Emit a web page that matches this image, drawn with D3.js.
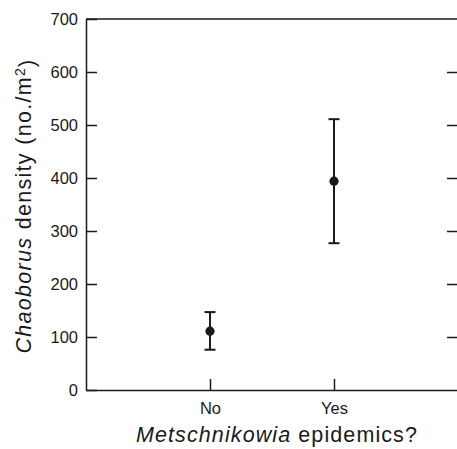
<!DOCTYPE html>
<html>
<head>
<meta charset="utf-8">
<script src="https://cdn.jsdelivr.net/npm/d3@7"></script>
<style>
  html, body { margin: 0; padding: 0; background: #fff; }
  svg { display: block; }
  text { font-family: "Liberation Sans", Arial, Helvetica, sans-serif; fill: #1a1a1a; }
</style>
</head>
<body>
<svg id="chart" width="457" height="449"></svg>
<script>
const categories = ["No", "Yes"];
const means = [111, 394];
const lower = [76, 277];
const upper = [147, 511];
const yTicks = [0, 100, 200, 300, 400, 500, 600, 700];

const W = 457, H = 449;
const mLeft = 86, mRight = 458, mTop = 19, mBottom = 390;
const ink = "#1a1a1a";

const svg = d3.select("#chart");

const x = d3.scalePoint().domain(categories).range([mLeft, mRight]).padding(1);
const y = d3.scaleLinear().domain([0, 700]).range([mBottom, mTop]);

const data = categories.map((c, i) => ({ c, m: means[i], lo: lower[i], hi: upper[i] }));

function styleAxis(g) {
  g.selectAll("path.domain").attr("stroke", ink).attr("stroke-width", 1.5);
  g.selectAll(".tick line").attr("stroke", ink).attr("stroke-width", 1.5);
  g.selectAll(".tick text").attr("fill", ink);
}

// left axis
svg.append("g")
  .attr("transform", `translate(${mLeft},0)`)
  .call(d3.axisLeft(y).tickValues(yTicks).tickSizeInner(-11).tickSizeOuter(0).tickPadding(8))
  .call(g => g.selectAll("text").style("font-size", "16.5px"))
  .call(styleAxis);

// right axis (ticks only, inward)
svg.append("g")
  .attr("transform", `translate(${mRight},0)`)
  .call(d3.axisRight(y).tickValues(yTicks.filter(v => v > 0 && v < 700)).tickSizeInner(-11).tickSizeOuter(0).tickFormat(""))
  .call(styleAxis);

// bottom axis
svg.append("g")
  .attr("transform", `translate(0,${mBottom})`)
  .call(d3.axisBottom(x).tickSizeInner(-11).tickSizeOuter(0).tickPadding(12))
  .call(g => g.selectAll("text").style("font-size", "16.5px"))
  .call(styleAxis);

// top frame line
svg.append("line")
  .attr("x1", mLeft).attr("x2", mRight)
  .attr("y1", y(700)).attr("y2", y(700))
  .attr("stroke", ink).attr("stroke-width", 1.5);

// error bars
const eb = svg.append("g");
eb.append("g").selectAll("line").data(data).join("line")
  .attr("x1", d => x(d.c)).attr("x2", d => x(d.c))
  .attr("y1", d => y(d.lo)).attr("y2", d => y(d.hi))
  .attr("stroke", ink).attr("stroke-width", 2);
eb.append("g").selectAll("line").data(data).join("line")
  .attr("x1", d => x(d.c) - 5.5).attr("x2", d => x(d.c) + 5.5)
  .attr("y1", d => y(d.hi)).attr("y2", d => y(d.hi))
  .attr("stroke", ink).attr("stroke-width", 2);
eb.append("g").selectAll("line").data(data).join("line")
  .attr("x1", d => x(d.c) - 5.5).attr("x2", d => x(d.c) + 5.5)
  .attr("y1", d => y(d.lo)).attr("y2", d => y(d.lo))
  .attr("stroke", ink).attr("stroke-width", 2);
svg.append("g").selectAll("circle").data(data).join("circle")
  .attr("cx", d => x(d.c)).attr("cy", d => y(d.m)).attr("r", 4.6)
  .attr("fill", ink);

function fitWidth(sel, target) {
  const node = sel.node();
  const L = node.getComputedTextLength();
  const n = node.textContent.length;
  const ls = Math.max(0, (target - L) / n);
  sel.style("letter-spacing", ls + "px");
}

// x label
const xl = svg.append("text")
  .attr("x", 277).attr("y", 442)
  .attr("text-anchor", "middle")
  .style("font-size", "21.5px");
xl.append("tspan").style("font-style", "italic").text("Metschnikowia");
xl.append("tspan").text(" epidemics?");
fitWidth(xl, 282);

// y label
const yl = svg.append("text")
  .attr("transform", `translate(31,206) rotate(-90)`)
  .attr("text-anchor", "middle")
  .style("font-size", "21.5px");
yl.append("tspan").style("font-style", "italic").text("Chaoborus");
yl.append("tspan").text(" density (no./m");
yl.append("tspan").attr("dy", "-0.45em").style("font-size", "14px").text("2");
yl.append("tspan").attr("dy", "0.45em").text(")");
fitWidth(yl, 295);
</script>
</body>
</html>
